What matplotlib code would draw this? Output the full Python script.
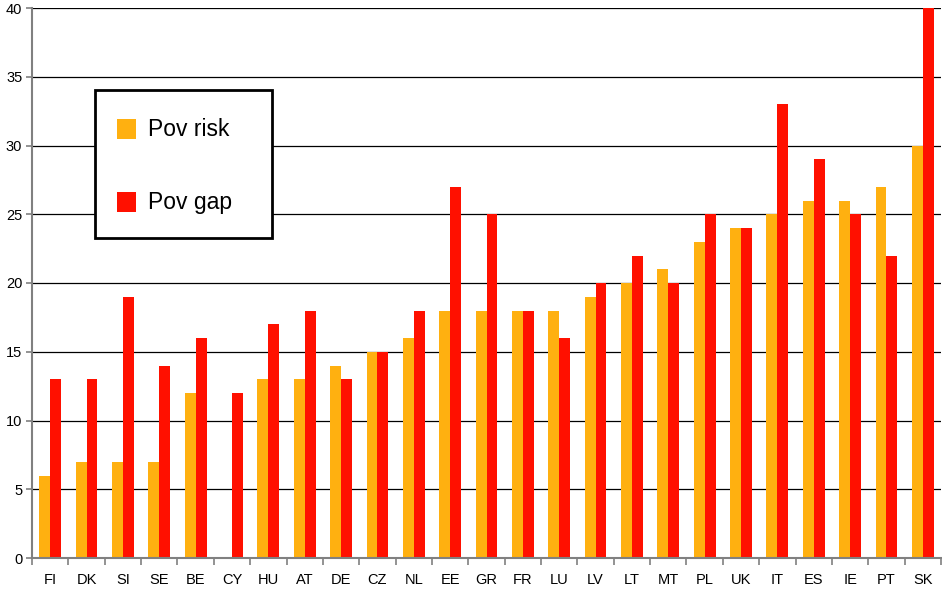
import numpy as np
import matplotlib.pyplot as plt
from matplotlib.patches import Rectangle

plt.rcParams['font.family'] = ['Liberation Sans', 'DejaVu Sans']

# Country codes and values
countries = ['FI', 'DK', 'SI', 'SE', 'BE', 'CY', 'HU', 'AT', 'DE', 'CZ', 'NL', 'EE', 'GR',
             'FR', 'LU', 'LV', 'LT', 'MT', 'PL', 'UK', 'IT', 'ES', 'IE', 'PT', 'SK']
pov_risk = [6, 7, 7, 7, 12, 0, 13, 13, 14, 15, 16, 18, 18, 18, 18, 19, 20, 21, 23, 24, 25, 26, 26, 27, 30]
pov_gap = [13, 13, 19, 14, 16, 12, 17, 18, 13, 15, 18, 27, 25, 18, 16, 20, 22, 20, 25, 24, 33, 29, 25, 22, 40]
labels = ['Pov risk', 'Pov gap']
colors = ['#FFB010', '#FF1000']

W, H = 942, 591
fig = plt.figure(figsize=(W / 100, H / 100), dpi=100)
ax = fig.add_axes([32 / W, (H - 558) / H, (941 - 32) / W, (558 - 8) / H])

x = np.arange(len(countries))
bw = 0.30
ax.bar(x - bw / 2, pov_risk, bw, color=colors[0], zorder=3)
ax.bar(x + bw / 2, pov_gap, bw, color=colors[1], zorder=3)

ax.set_xlim(-0.5, len(countries) - 0.5)
ax.set_ylim(0, 40)
ax.set_yticks(np.arange(0, 41, 5))
ax.yaxis.grid(True, color='black', linewidth=0.9, zorder=0)
ax.set_axisbelow(True)

ax.set_xticks(x)
ax.set_xticklabels(countries, fontsize=10.5)
ax.set_xticks(np.arange(-0.5, len(countries), 1), minor=True)
ax.tick_params(axis='x', which='major', length=0, pad=11)
ax.tick_params(axis='x', which='minor', length=5, color='#808080', width=1.2)
ax.tick_params(axis='y', labelsize=10.5, length=4, color='#808080', width=1.2, pad=3)

for s in ['top', 'right']:
    ax.spines[s].set_visible(False)
for s in ['left', 'bottom']:
    ax.spines[s].set_color('#808080')
    ax.spines[s].set_linewidth(1.5)
    ax.spines[s].set_zorder(4)

# hand-drawn legend box in pixel positions
def fx(px):
    return px / W

def fy(py):
    return (H - py) / H

fig.patches.append(Rectangle((fx(95), fy(238)), fx(272) - fx(95), fy(90) - fy(238),
                             transform=fig.transFigure, facecolor='white',
                             edgecolor='black', linewidth=2, zorder=10))
for lab, col, yc in zip(labels, colors, [129, 202]):
    fig.patches.append(Rectangle((fx(117), fy(yc + 9.5)), fx(136) - fx(117), fy(yc - 9.5) - fy(yc + 9.5),
                                 transform=fig.transFigure, facecolor=col,
                                 edgecolor='none', zorder=11))
    fig.text(fx(148), fy(yc), lab, fontsize=16.5, va='center', ha='left', zorder=12)

fig.savefig('out.png', dpi=100)
